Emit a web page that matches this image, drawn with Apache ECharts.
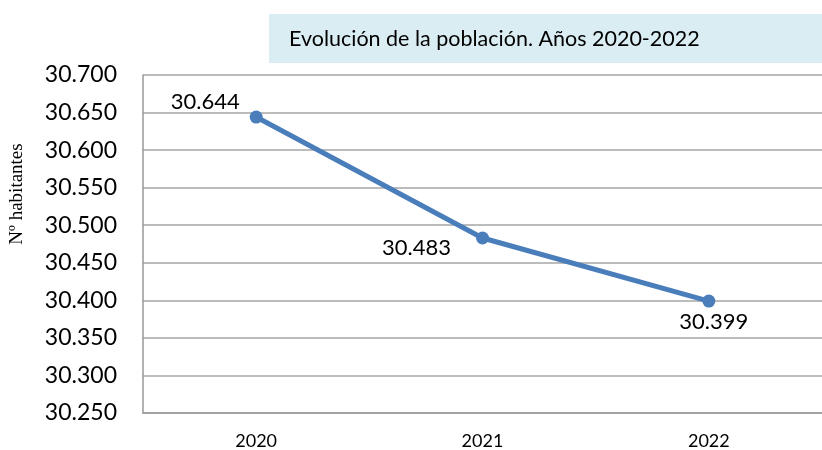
<!DOCTYPE html>
<html>
<head>
<meta charset="utf-8">
<script src="https://cdn.jsdelivr.net/npm/echarts@6/dist/echarts.min.js"></script>
<style>
  html, body { margin: 0; padding: 0; background: #fff; }
  #chart { width: 822px; height: 450px; }
</style>
</head>
<body>
<div id="chart"></div>
<script>
  // datos
  var years = ['2020', '2021', '2022'];
  var population = [30644, 30483, 30399];
  var yMin = 30250;
  var yMax = 30700;
  var yStep = 50;

  // posición de cada etiqueta respecto a su punto
  var labelOffsets = [[-51, -15], [-66, 10], [5, 21]];

  function fmt(v) {
    return (v / 1000).toFixed(3);
  }

  var chart = echarts.init(document.getElementById('chart'));
  chart.setOption({
    animation: false,
    backgroundColor: '#fff',
    grid: { left: 143, top: 75, bottom: 37, right: -12 },
    graphic: [
      {
        type: 'rect',
        shape: { x: 269, y: 14, width: 553, height: 49 },
        style: { fill: '#daedf3' }
      },
      {
        type: 'text',
        x: 289, y: 39,
        style: {
          text: 'Evolución de la población. Años 2020-2022',
          font: '21.5px Lato',
          fill: '#000',
          verticalAlign: 'middle'
        }
      },
      {
        type: 'text',
        x: 17, y: 194,
        rotation: Math.PI / 2,
        style: {
          text: 'Nº habitantes',
          font: '19px "Liberation Serif"',
          fill: '#000',
          align: 'center',
          verticalAlign: 'middle'
        }
      }
    ],
    xAxis: {
      type: 'category',
      data: years,
      boundaryGap: true,
      axisLine: { lineStyle: { color: '#999', width: 1.5 } },
      axisTick: { show: false },
      axisLabel: {
        color: '#000',
        fontFamily: 'Lato',
        fontSize: 18,
        margin: 19
      }
    },
    yAxis: {
      type: 'value',
      min: yMin,
      max: yMax,
      interval: yStep,
      axisLine: { show: true, lineStyle: { color: '#999', width: 1.5 } },
      axisTick: { show: false },
      splitLine: { lineStyle: { color: '#a6a6a6', width: 1.5 } },
      axisLabel: {
        color: '#000',
        fontFamily: 'Lato',
        fontSize: 23,
        margin: 26,
        formatter: fmt
      }
    },
    series: [{
      type: 'line',
      data: population.map(function (v, i) {
        return {
          value: v,
          label: { offset: labelOffsets[i] }
        };
      }),
      symbol: 'circle',
      symbolSize: 13,
      lineStyle: { color: '#4a7ebb', width: 5 },
      itemStyle: { color: '#4a7ebb' },
      label: {
        show: true,
        position: 'inside',
        color: '#000',
        fontFamily: 'Lato',
        fontSize: 22,
        formatter: function (p) { return fmt(p.value); }
      }
    }]
  });
</script>
</body>
</html>
